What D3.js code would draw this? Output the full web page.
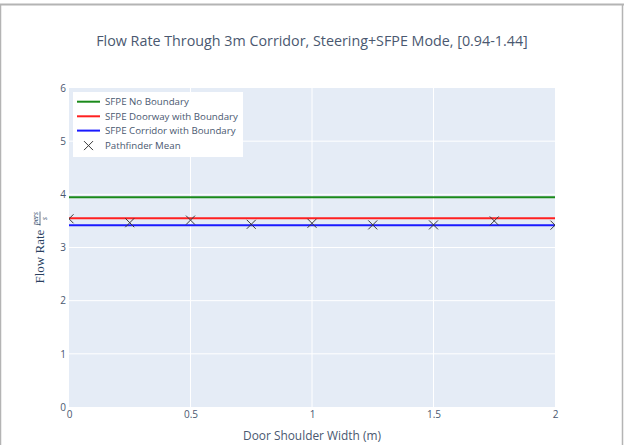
<!DOCTYPE html>
<html>
<head>
<meta charset="utf-8">
<script src="https://cdn.jsdelivr.net/npm/d3@7"></script>
<style>
  html, body { margin: 0; padding: 0; background: #fff; }
  svg { display: block; }
</style>
</head>
<body>
<svg id="chart" width="624" height="445"></svg>
<script>
// ---- data ----
const xDomain = [0, 2];
const yDomain = [0, 6];
const xTicks = [0, 0.5, 1, 1.5, 2];
const xTickLabels = ["0", "0.5", "1", "1.5", "2"];
const yTicks = [0, 1, 2, 3, 4, 5, 6];
const seriesNames = ["SFPE No Boundary", "SFPE Doorway with Boundary", "SFPE Corridor with Boundary"];
const seriesValues = [3.944, 3.549, 3.417];
const seriesColors = ["#1a8a1a", "#ff2020", "#1a1aff"];
const pathfinderX = [0, 0.25, 0.5, 0.75, 1.0, 1.25, 1.5, 1.75, 2.0];
const pathfinderY = [3.54, 3.466, 3.515, 3.436, 3.455, 3.425, 3.425, 3.50, 3.42];
const titleText = "Flow Rate Through 3m Corridor, Steering+SFPE Mode, [0.94-1.44]";
const xTitle = "Door Shoulder Width (m)";

// ---- layout ----
const svg = d3.select("#chart");
const W = 624, H = 445;
const plot = { left: 69, right: 555, top: 88, bottom: 407 };
const font = "'Open Sans', 'Liberation Sans', sans-serif";
const textColor = "#4a5870";

// frame
svg.append("rect").attr("x", 0).attr("y", 0).attr("width", W).attr("height", H).attr("fill", "#fff");
svg.append("line").attr("x1", 0).attr("x2", W).attr("y1", 4.5).attr("y2", 4.5).attr("stroke", "#b4b4b4").attr("stroke-width", 2);
svg.append("line").attr("x1", 0.5).attr("x2", 0.5).attr("y1", 4).attr("y2", H).attr("stroke", "#b4b4b4").attr("stroke-width", 1.5);
svg.append("line").attr("x1", 622.5).attr("x2", 622.5).attr("y1", 4).attr("y2", H).attr("stroke", "#b4b4b4").attr("stroke-width", 1.5);

const x = d3.scaleLinear().domain(xDomain).range([plot.left, plot.right]);
const y = d3.scaleLinear().domain(yDomain).range([plot.bottom, plot.top]);

// background
svg.append("rect")
  .attr("x", plot.left).attr("y", plot.top)
  .attr("width", plot.right - plot.left).attr("height", plot.bottom - plot.top)
  .attr("fill", "#e5ecf6");

// grid
const grid = svg.append("g");
grid.selectAll(".vg").data(xTicks.slice(1, -1)).enter().append("line")
  .attr("x1", d => x(d)).attr("x2", d => x(d))
  .attr("y1", plot.top).attr("y2", plot.bottom)
  .attr("stroke", "#fff").attr("stroke-width", 1);
grid.selectAll(".hg").data(yTicks.slice(1, -1)).enter().append("line")
  .attr("x1", plot.left).attr("x2", plot.right)
  .attr("y1", d => y(d)).attr("y2", d => y(d))
  .attr("stroke", "#fff").attr("stroke-width", 1);

// axes (labels only, no domain/ticks)
const xAxis = d3.axisBottom(x).tickValues(xTicks).tickFormat((d, i) => xTickLabels[i]).tickSize(0).tickPadding(4);
const gx = svg.append("g").attr("transform", `translate(0,${plot.bottom})`).call(xAxis);
gx.select(".domain").remove();
gx.selectAll("text").attr("font-family", font).attr("font-size", 10).attr("fill", textColor);

const yAxis = d3.axisLeft(y).tickValues(yTicks).tickFormat(d3.format("d")).tickSize(0).tickPadding(3);
const gy = svg.append("g").attr("transform", `translate(${plot.left},0)`).call(yAxis);
gy.select(".domain").remove();
gy.selectAll("text").attr("font-family", font).attr("font-size", 10).attr("fill", textColor);

// clip
svg.append("clipPath").attr("id", "clip").append("rect")
  .attr("x", plot.left).attr("y", plot.top)
  .attr("width", plot.right - plot.left).attr("height", plot.bottom - plot.top);
const marks = svg.append("g").attr("clip-path", "url(#clip)");

// horizontal series lines
const line = d3.line().x(d => x(d[0])).y(d => y(d[1]));
seriesValues.forEach((v, i) => {
  marks.append("path")
    .attr("d", line([[xDomain[0], v], [xDomain[1], v]]))
    .attr("stroke", seriesColors[i]).attr("stroke-width", 2).attr("fill", "none");
});

// pathfinder markers (x-thin)
const ms = 4.5;
const xSym = `M${-ms},${-ms}L${ms},${ms}M${-ms},${ms}L${ms},${-ms}`;
marks.selectAll(".pm").data(pathfinderX.map((d, i) => [d, pathfinderY[i]])).enter().append("path")
  .attr("transform", d => `translate(${x(d[0])},${y(d[1])})`)
  .attr("d", xSym).attr("stroke", "#3a3a3a").attr("stroke-width", 1).attr("fill", "none");

// title
svg.append("text").attr("x", 312).attr("y", 46).attr("text-anchor", "middle")
  .attr("font-family", font).attr("font-size", 14.3).attr("fill", textColor).text(titleText);

// x title
svg.append("text").attr("x", (plot.left + plot.right) / 2).attr("y", 440).attr("text-anchor", "middle")
  .attr("font-family", font).attr("font-size", 11.9).attr("fill", textColor).text(xTitle);

// y title with math fraction
const yt = svg.append("g").attr("transform", `translate(44,${(plot.top + plot.bottom) / 2}) rotate(-90)`);
const ytColor = "#2a3f5f";
yt.append("text").attr("x", -36).attr("y", 0).attr("font-family", "'Liberation Serif', serif")
  .attr("font-size", 13).attr("fill", ytColor).text("Flow Rate");
yt.append("text").attr("x", 29).attr("y", -6).attr("text-anchor", "middle").attr("font-family", "'Liberation Serif', serif")
  .attr("font-style", "italic").attr("font-size", 7.5).attr("fill", ytColor).text("pers");
yt.append("line").attr("x1", 22).attr("x2", 36).attr("y1", -4).attr("y2", -4).attr("stroke", ytColor).attr("stroke-width", 0.7);
yt.append("text").attr("x", 29).attr("y", 3).attr("text-anchor", "middle").attr("font-family", "'Liberation Serif', serif")
  .attr("font-style", "italic").attr("font-size", 7.5).attr("fill", ytColor).text("s");

// legend
const lg = svg.append("g");
lg.append("rect").attr("x", 73).attr("y", 92).attr("width", 170).attr("height", 65).attr("fill", "#fff");
const rowY = [101.7, 116.3, 130.6, 145.6];
seriesNames.forEach((n, i) => {
  lg.append("line").attr("x1", 77).attr("x2", 100).attr("y1", rowY[i]).attr("y2", rowY[i])
    .attr("stroke", seriesColors[i]).attr("stroke-width", 2);
  lg.append("text").attr("x", 105).attr("y", rowY[i] + 3.5).attr("font-family", font)
    .attr("font-size", 9.7).attr("fill", textColor).text(n);
});
lg.append("path").attr("transform", `translate(88.5,${rowY[3]})`).attr("d", xSym)
  .attr("stroke", "#3a3a3a").attr("stroke-width", 1).attr("fill", "none");
lg.append("text").attr("x", 105).attr("y", rowY[3] + 3.5).attr("font-family", font)
  .attr("font-size", 9.7).attr("fill", textColor).text("Pathfinder Mean");
</script>
</body>
</html>
